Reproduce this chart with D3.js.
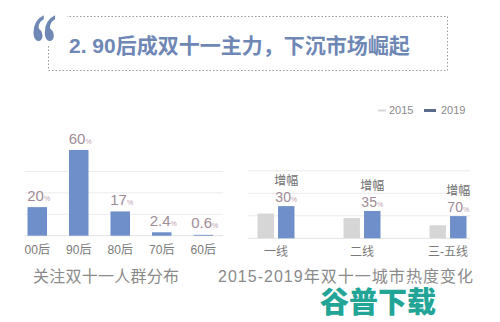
<!DOCTYPE html>
<html>
<head>
<meta charset="utf-8">
<script src="https://cdn.jsdelivr.net/npm/d3@7"></script>
<style>
  html, body { margin: 0; padding: 0; background: #fff; }
  svg { display: block; }
</style>
</head>
<body>
<svg id="chart" width="500" height="322"></svg>
<script>
// Share of Double 11 attention by generation (%)
const ageGroups = ["00后", "90后", "80后", "70后", "60后"];
const ageShare = [20, 60, 17, 2.4, 0.6];
const ageGrid = [15, 30, 45];

// City heat index, 2015 vs 2019, with stated growth (%)
const cityTiers = ["一线", "二线", "三-五线"];
const years = ["2015", "2019"];
const heat2015 = [110, 90, 58];
const growth = [30, 35, 70];
const heat2019 = heat2015.map((v, i) => v * (1 + growth[i] / 100));
const heatGrid = [100, 200, 300];

const titleText = "2. 90后成双十一主力，下沉市场崛起";
const captionLeft = "关注双十一人群分布";
const captionRight = "2015-2019年双十一城市热度变化";
const watermark = "谷普下载";

const BLUE = "#6f8fca";
const GREY = "#d6d6d6";
const LABEL = "#a08c96";
const AXIS_TXT = "#7a7a7a";
const GRIDC = "#ececec";
const CJK = "'Liberation Sans', 'Noto Sans CJK SC', sans-serif";
const LAT = "'Liberation Sans', Arial, sans-serif";

const svg = d3.select("#chart").style("font-family", CJK);

// ---- Title block ----
svg.append("rect")
  .attr("x", 48.5).attr("y", 16.5).attr("width", 399).attr("height", 54)
  .attr("fill", "none").attr("stroke", "#9a9a9a").attr("stroke-width", 1)
  .attr("stroke-dasharray", "1.5,2");
// white patch so the quote mark breaks the box corner
svg.append("rect")
  .attr("x", 28).attr("y", 10).attr("width", 39).attr("height", 36)
  .attr("fill", "#fff");
svg.append("text")
  .attr("transform", "translate(31,72) scale(0.66,1.08)")
  .style("font-family", "'Liberation Serif', serif")
  .style("font-weight", "bold").style("font-size", "78px")
  .attr("fill", "#6e87b5")
  .text("\u201C");
svg.append("text")
  .attr("x", 69).attr("y", 53)
  .style("font-weight", "bold").style("font-size", "21px")
  .attr("fill", "#6e87b5")
  .text(titleText);

// ---- Left chart: age groups ----
const xA = d3.scaleBand().domain(ageGroups).range([16.5, 224])
  .paddingInner(0.53).paddingOuter(0.265);
const yA = d3.scaleLinear().domain([0, 60]).range([235.7, 150]);

const gA = svg.append("g");
gA.selectAll("line.grid").data(ageGrid).join("line")
  .attr("x1", 25).attr("x2", 223)
  .attr("y1", d => yA(d)).attr("y2", d => yA(d))
  .attr("stroke", GRIDC).attr("stroke-width", 1);
gA.append("line")
  .attr("x1", 25).attr("x2", 223).attr("y1", yA(0)).attr("y2", yA(0))
  .attr("stroke", "#e2e2e2");

gA.selectAll("rect.bar").data(ageShare).join("rect")
  .attr("x", (d, i) => xA(ageGroups[i]))
  .attr("width", xA.bandwidth())
  .attr("y", d => yA(d))
  .attr("height", d => yA(0) - yA(d))
  .attr("fill", BLUE);

const valA = gA.selectAll("text.val").data(ageShare).join("text")
  .attr("x", (d, i) => xA(ageGroups[i]) + xA.bandwidth() / 2 + 1.5)
  .attr("y", d => yA(d) - 6.5)
  .attr("text-anchor", "middle")
  .style("font-family", LAT)
  .attr("fill", LABEL);
valA.append("tspan").style("font-size", "15px").text(d => d);
valA.append("tspan").style("font-size", "7px").attr("fill", "#c0a0ae").text("%");

const axA = d3.axisBottom(xA).tickSize(0).tickPadding(0);
gA.append("g").attr("transform", `translate(0,${yA(0) + 14})`).call(axA)
  .call(g => g.select(".domain").remove())
  .selectAll("text")
  .style("font-family", CJK).style("font-size", "12px")
  .attr("fill", AXIS_TXT).attr("dy", "0.35em");

// ---- Right chart: city tiers ----
const x0 = d3.scaleBand().domain(cityTiers).range([233, 491])
  .paddingInner(0.57).paddingOuter(0.285);
const x1 = d3.scaleBand().domain(years).range([0, x0.bandwidth()])
  .paddingInner(0.2);
const yC = d3.scaleLinear().domain([0, 300]).range([238.3, 170.8]);

const gC = svg.append("g");
gC.selectAll("line.grid").data(heatGrid).join("line")
  .attr("x1", 248).attr("x2", 470)
  .attr("y1", d => yC(d)).attr("y2", d => yC(d))
  .attr("stroke", GRIDC).attr("stroke-width", 1);
gC.append("line")
  .attr("x1", 248).attr("x2", 470).attr("y1", yC(0)).attr("y2", yC(0))
  .attr("stroke", "#e2e2e2");

const seriesData = cityTiers.map((c, i) => ({ tier: c, vals: [heat2015[i], heat2019[i]], g: growth[i] }));
const groups = gC.selectAll("g.tier").data(seriesData).join("g")
  .attr("transform", d => `translate(${x0(d.tier)},0)`);
groups.selectAll("rect").data(d => d.vals.map((v, j) => ({ year: years[j], v })))
  .join("rect")
  .attr("x", d => x1(d.year))
  .attr("width", x1.bandwidth())
  .attr("y", d => yC(d.v))
  .attr("height", d => yC(0) - yC(d.v))
  .attr("fill", d => d.year === "2015" ? GREY : BLUE);

groups.append("text")
  .attr("x", x1("2019") + x1.bandwidth() / 2)
  .attr("y", d => yC(d.vals[1]) - 21)
  .attr("text-anchor", "middle")
  .style("font-size", "12px").attr("fill", "#6f6f6f")
  .text("增幅");
const gl = groups.append("text")
  .attr("x", x1("2019") + x1.bandwidth() / 2)
  .attr("y", d => yC(d.vals[1]) - 4)
  .attr("text-anchor", "middle")
  .style("font-family", LAT)
  .attr("fill", LABEL);
gl.append("tspan").style("font-size", "14px").text(d => d.g);
gl.append("tspan").style("font-size", "7px").attr("fill", "#c0a0ae").text("%");

const axC = d3.axisBottom(x0).tickSize(0).tickPadding(0);
gC.append("g").attr("transform", `translate(0,${yC(0) + 13.5})`).call(axC)
  .call(g => g.select(".domain").remove())
  .selectAll("text")
  .style("font-family", CJK).style("font-size", "12px")
  .attr("fill", AXIS_TXT).attr("dy", "0.35em");

// Legend
const legendColors = { "2015": GREY, "2019": "#5b6b8c" };
const leg = svg.append("g").selectAll("g").data(years).join("g")
  .attr("transform", (d, i) => `translate(${378 + i * 46},110.5)`);
leg.append("line")
  .attr("x1", 0).attr("x2", d => d === "2015" ? 8 : 12)
  .attr("stroke", d => legendColors[d])
  .attr("stroke-width", d => d === "2015" ? 2 : 3);
leg.append("text")
  .attr("x", d => d === "2015" ? 11 : 17).attr("dy", "0.35em")
  .style("font-family", LAT)
  .style("font-size", "11px").attr("fill", "#8a8a8a")
  .text(d => d);

// ---- Captions ----
svg.append("text").attr("x", 33).attr("y", 282)
  .style("font-size", "16px").attr("fill", "#8a8a8a")
  .attr("textLength", 146).attr("lengthAdjust", "spacing")
  .text(captionLeft);
svg.append("text").attr("x", 218).attr("y", 282)
  .style("font-size", "16px").attr("fill", "#8a8a8a")
  .attr("textLength", 255).attr("lengthAdjust", "spacing")
  .text(captionRight);

// Watermark
svg.append("text").attr("x", 320).attr("y", 313)
  .style("font-family", "'Noto Sans CJK SC', sans-serif")
  .style("font-size", "29px").style("font-weight", 900)
  .attr("fill", "#22a596").text(watermark);
</script>
</body>
</html>
